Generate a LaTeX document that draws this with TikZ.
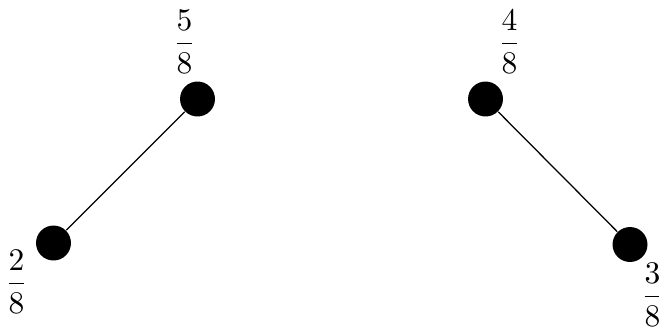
\documentclass[tikz,border=0pt]{standalone}
\begin{document}
\begin{tikzpicture}[x=0.3175pt,y=-0.3175pt,
  dot/.style={circle,fill=black,inner sep=0pt,minimum size=11.1pt},
  lbl/.style={inner sep=0pt}]
\useasboundingbox (0,0) rectangle (659,326);
\node[dot] (a) at (197.5,99) {};
\node[dot] (b) at (53.5,243) {};
\node[dot] (c) at (485.5,99) {};
\node[dot] (d) at (630,244.5) {};
\draw (a) -- (b);
\draw (c) -- (d);
\node[lbl] (la) at (184.5,41.5) {$\displaystyle\frac{5}{8}$};
\node[lbl] (lb) at (16.5,281.5) {$\displaystyle\frac{2}{8}$};
\node[lbl] (lc) at (509.5,41.5) {$\displaystyle\frac{4}{8}$};
\node[lbl] (ld) at (652.5,294.5) {$\displaystyle\frac{3}{8}$};
\end{tikzpicture}
\end{document}
